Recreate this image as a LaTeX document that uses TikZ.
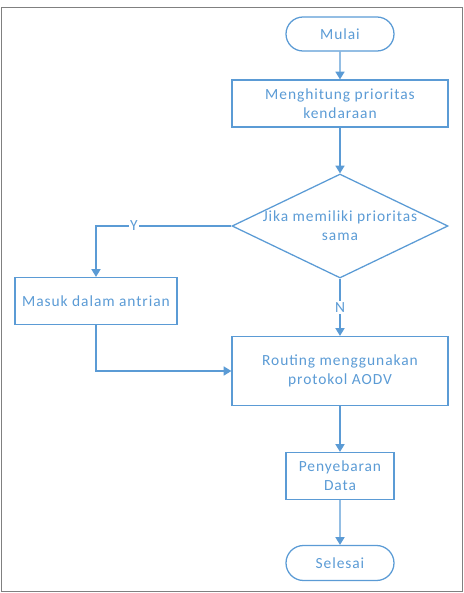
\documentclass[tikz,border=0pt]{standalone}
\usepackage{fontspec}
\setmainfont[LetterSpace=6]{Carlito}
\usetikzlibrary{shapes.geometric,shapes.misc,arrows.meta}
\definecolor{flowblue}{HTML}{5B9BD5}
\begin{document}
\begin{tikzpicture}[font=\fontsize{11}{13.5}\selectfont, text=flowblue,
    every node/.style={align=center, inner sep=0pt},
    box/.style={draw=flowblue, line width=0.9pt, rectangle},
    ends/.style={draw=flowblue, line width=0.9pt, rounded rectangle},
    choice/.style={draw=flowblue, line width=0.9pt, diamond},
    arr/.style={draw=flowblue, line width=0.9pt, -{Triangle[length=5.5pt,width=6.5pt]}},
    tag/.style={fill=white, inner sep=1pt}]
    \useasboundingbox (0,0) rectangle (11.6,-14.825);
    \draw[gray, line width=0.6pt] (0.04,-0.18) rectangle (11.57,-14.79);
    \node[ends, minimum width=2.7cm, minimum height=0.85cm] (mulai) at (8.5,-0.85) {Mulai};
    \node[box, minimum width=5.4cm, minimum height=1.175cm] (hitung) at (8.5,-2.5875) {Menghitung prioritas\\kendaraan};
    \node[choice, minimum width=5.4cm, minimum height=2.6cm, aspect=2.08] (sama) at (8.5,-5.65) {};
    \node at (sama) {Jika memiliki prioritas\\sama};
    \node[box, minimum width=4.05cm, minimum height=1.175cm] (antri) at (2.4,-7.525) {Masuk dalam antrian};
    \node[box, minimum width=5.4cm, minimum height=1.725cm] (aodv) at (8.5,-9.275) {Routing menggunakan\\protokol AODV};
    \node[box, minimum width=2.7cm, minimum height=1.175cm] (sebar) at (8.5,-11.9) {Penyebaran\\Data};
    \node[ends, minimum width=2.7cm, minimum height=0.875cm] (selesai) at (8.5,-14.075) {Selesai};
    \draw[arr] (mulai) -- (hitung);
    \draw[arr] (hitung) -- (sama);
    \draw[arr] (sama.west) -| node[tag, pos=0.36] {Y} (antri.north);
    \draw[arr] (sama.south) -- node[tag, pos=0.5] {N} (aodv.north);
    \draw[arr] (antri.south) |- (aodv.west);
    \draw[arr] (aodv) -- (sebar);
    \draw[arr] (sebar) -- (selesai);
\end{tikzpicture}
\end{document}
